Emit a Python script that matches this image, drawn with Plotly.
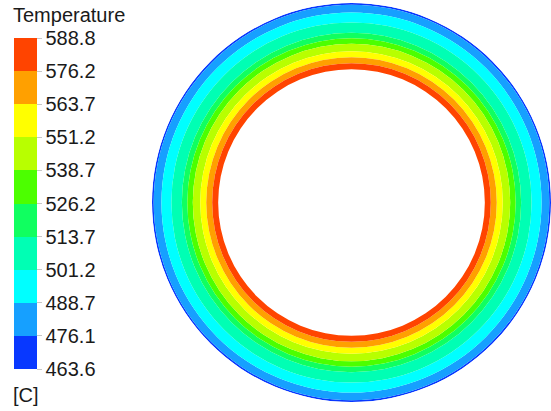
import plotly.graph_objects as go

# Contour levels (legend tick labels) in degrees C
levels = [463.6, 476.1, 488.7, 501.2, 513.7, 526.2, 538.7, 551.2, 563.7, 576.2, 588.8]
tick_labels = ["463.6", "476.1", "488.7", "501.2", "513.7", "526.2",
               "538.7", "551.2", "563.7", "576.2", "588.8"]
band_colors = ["#0838ff", "#16a0ff", "#00ffff", "#00ffb4", "#10ff60",
               "#4cff00", "#b8ff00", "#ffff00", "#ffa000", "#ff4400"]

# Radial extent of each temperature band in the ring (band i spans levels[i]..levels[i+1])
band_inner_r = [198.8, 191.0, 181.0, 170.5, 165.0, 159.5, 152.0, 146.0, 140.0, 134.0]
band_outer_r = [200.5, 198.8, 191.0, 181.0, 170.5, 165.0, 159.5, 152.0, 146.0, 140.0]

tmin, tmax = levels[0], levels[-1]
band_values = [(levels[i] + levels[i + 1]) / 2 for i in range(len(band_colors))]

colorscale = []
for i, c in enumerate(band_colors):
    lo = (levels[i] - tmin) / (tmax - tmin)
    hi = (levels[i + 1] - tmin) / (tmax - tmin)
    colorscale.append([lo, c])
    colorscale.append([hi, c])
colorscale[0][0] = 0.0
colorscale[-1][0] = 1.0

fig = go.Figure()
fig.add_trace(go.Barpolar(
    theta=[0] * len(band_values),
    width=[360] * len(band_values),
    base=band_inner_r,
    r=[o - i for o, i in zip(band_outer_r, band_inner_r)],
    marker=dict(color=band_values, coloraxis="coloraxis", line=dict(width=0)),
    hoverinfo="skip",
))

W, H = 551, 411
cx, cy, R = 351.5, 202.5, 199.5
fig.update_layout(
    width=W, height=H,
    margin=dict(l=0, r=0, t=0, b=0, autoexpand=False),
    paper_bgcolor="white",
    showlegend=False,
    font=dict(family="Arial, Liberation Sans, sans-serif", color="#1a1a1a"),
    polar=dict(
        domain=dict(x=[(cx - R) / W, min(1, (cx + R) / W)],
                    y=[(H - cy - R) / H, (H - cy + R) / H]),
        bgcolor="white",
        barmode="overlay",
        hole=0,
        radialaxis=dict(visible=False, range=[0, 200.5]),
        angularaxis=dict(visible=False),
    ),
    coloraxis=dict(
        colorscale=colorscale,
        cmin=tmin, cmax=tmax,
        colorbar=dict(
            xref="container", yref="container",
            x=14 / W, xanchor="left",
            y=(H - 38) / H, yanchor="top",
            len=331, lenmode="pixels",
            thickness=23, thicknessmode="pixels",
            xpad=0, ypad=0,
            outlinewidth=0,
            tickmode="array", tickvals=levels, ticktext=tick_labels,
            ticks="outside", ticklen=5, tickcolor="#c8c8c8", tickwidth=1,
            tickfont=dict(size=20, color="#1a1a1a"),
        ),
    ),
    annotations=[
        dict(text="Temperature", x=11 / W, y=(H - 15) / H, xref="paper", yref="paper",
             xanchor="left", yanchor="middle", showarrow=False,
             font=dict(size=20, color="#1a1a1a")),
        dict(text="[C]", x=11 / W, y=(H - 395) / H, xref="paper", yref="paper",
             xanchor="left", yanchor="middle", showarrow=False,
             font=dict(size=20, color="#1a1a1a")),
    ],
)

fig.write_html("out.html", config={"displayModeBar": False},
               post_script="document.body.style.margin='0';")
